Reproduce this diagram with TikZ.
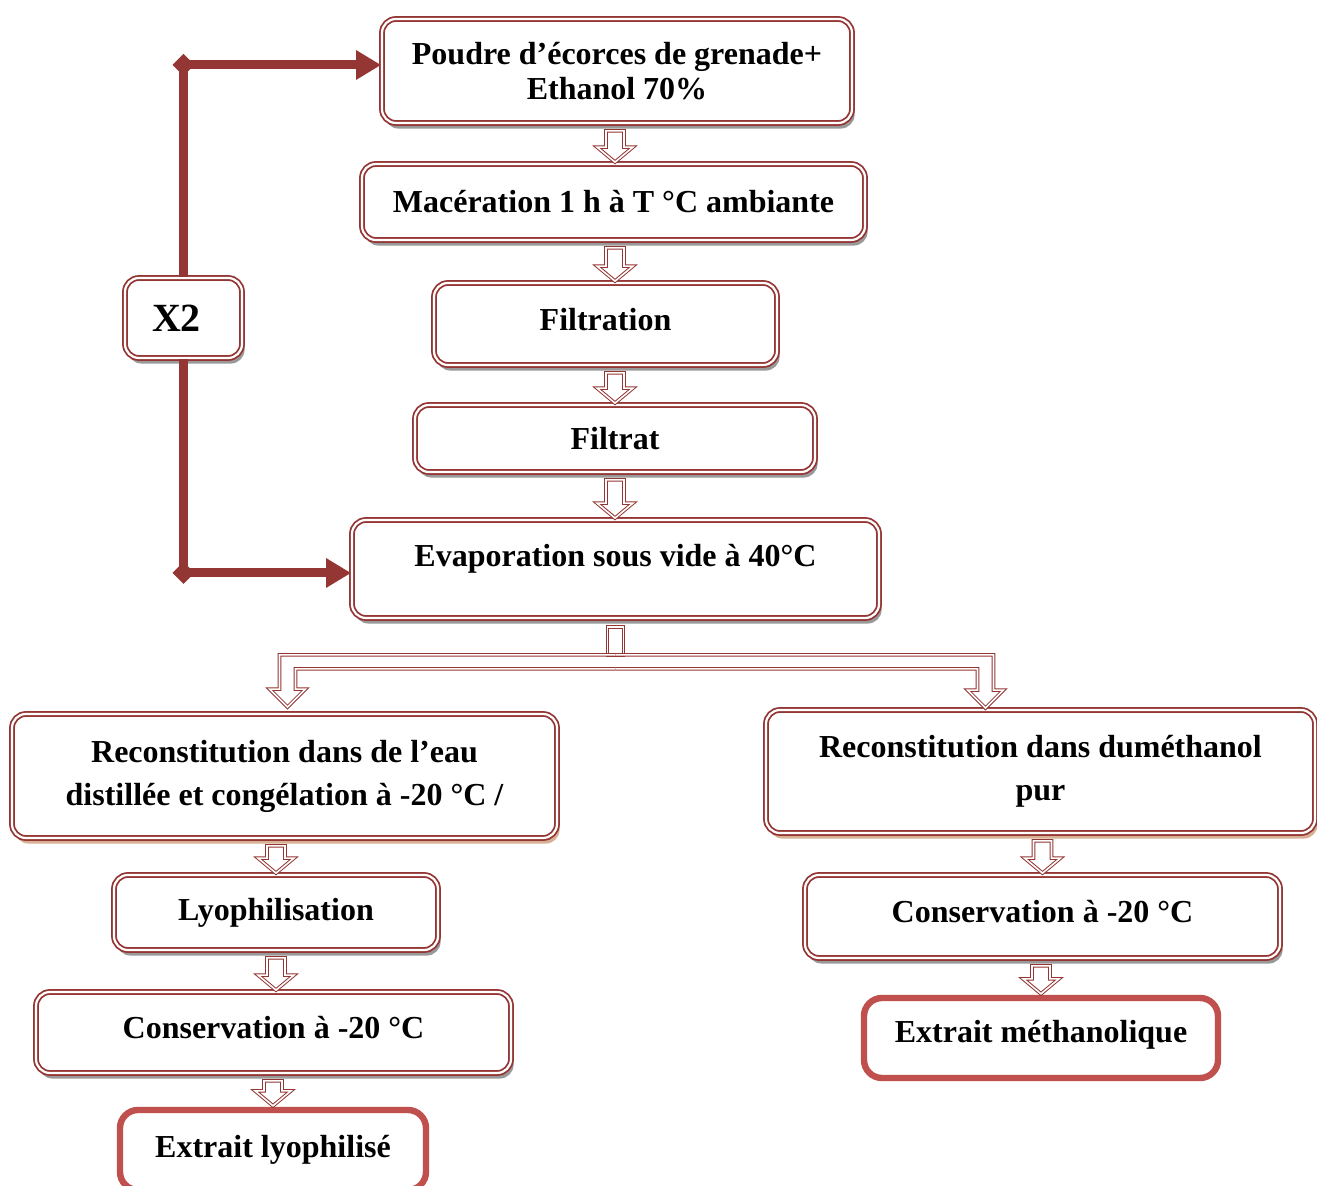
\documentclass[tikz,border=0pt]{standalone}
\usepackage{fontspec}
\setmainfont{Liberation Serif}
\usetikzlibrary{calc,arrows.meta,shadows}
\definecolor{dred}{HTML}{943634}
\definecolor{ered}{HTML}{C0504D}
\definecolor{tanshadow}{HTML}{D4A888}
\newcommand\harrow[3]{%
  \draw[hollow] ($(#1.south -| #3)+(-9,7)$) -- ($(#1.south -| #3)+(9,7)$)
    -- ($(#2.north -| #3)+(9,-16)$) -- ($(#2.north -| #3)+(18,-16)$)
    -- ($(#2.north -| #3)+(0,-1)$) -- ($(#2.north -| #3)+(-18,-16)$)
    -- ($(#2.north -| #3)+(-9,-16)$) -- cycle;}
\begin{document}
\begin{tikzpicture}[x=0.5pt,y=-0.5pt,
  boxbase/.style={draw=dred, double=white, line width=0.9pt, double distance=1.1pt,
    rounded corners=7pt, fill=white, align=center, inner sep=0pt,
    font=\bfseries\fontsize{16}{21.5}\selectfont},
  box/.style={boxbase, drop shadow={shadow xshift=1.3pt, shadow yshift=-2.8pt, fill=black!50, opacity=0.8}},
  tanbox/.style={boxbase, drop shadow={shadow xshift=1.3pt, shadow yshift=-2.8pt, fill=tanshadow, opacity=0.9}},
  ext/.style={draw=ered, line width=3.2pt, rounded corners=9pt, fill=white, align=center,
    inner sep=0pt, font=\bfseries\fontsize{16}{21.5}\selectfont},
  hollow/.style={draw=dred, double=white, line width=0.5pt, double distance=0.8pt},
  xline/.style={draw=dred, line width=4.5pt}]
\useasboundingbox (0,0) rectangle (1317,1186);
\fill[white] (0,0) rectangle (1317,1186);

% nodes
\node[box, minimum width=235pt, minimum height=52pt, font=\bfseries\fontsize{16}{17.5}\selectfont]
  (poudre) at (617,71) {Poudre d’écorces de grenade+\\Ethanol 70\%};
\node[box, minimum width=251.5pt, minimum height=38pt] (macer) at (613.5,202) {Macération 1 h à T °C ambiante};
\node[box, minimum width=171.5pt, minimum height=41pt, text depth=5pt] (filtr) at (605.5,324) {Filtration};
\node[box, minimum width=200pt, minimum height=33.5pt] (filtrat) at (615,438.5) {Filtrat};
\node[box, minimum width=263.5pt, minimum height=49pt, text depth=14pt] (evap) at (615.5,569) {Evaporation sous vide à 40°C};
\node[tanbox, minimum width=272.5pt, minimum height=62pt] (reconL) at (284.5,776)
  {Reconstitution dans de l’eau\\distillée et congélation à -20 °C /};
\node[tanbox, minimum width=274.5pt, minimum height=61.5pt] (reconR) at (1040.5,771.5)
  {Reconstitution dans duméthanol\\pur};
\node[box, minimum width=162pt, minimum height=37.5pt] (lyo) at (276,912.5) {Lyophilisation};
\node[box, minimum width=237.5pt, minimum height=40.5pt, text depth=5pt] (consL) at (273.5,1032.5) {Conservation à -20 °C};
\node[ext, minimum width=153pt, minimum height=40pt] (extL) at (273,1150) {Extrait lyophilisé};
\node[box, minimum width=237.5pt, minimum height=41.5pt, text depth=5pt] (consR) at (1042.5,916.5) {Conservation à -20 °C};
\node[ext, minimum width=177pt, minimum height=40pt, text depth=6.5pt] (extM) at (1041,1038) {Extrait méthanolique};
\node[box, minimum width=58.5pt, minimum height=40pt, font=\bfseries\fontsize{20}{24}\selectfont] (x2) at (183.5,318) {X2\hspace*{7pt}};

% X2 loop connector
\coordinate (c1) at (183.5,65);
\coordinate (c2) at (183.5,573);
\draw[xline] (c1) -- (x2.north);
\draw[xline] (x2.south) -- (c2);
\draw[xline, -{Triangle[length=12.5pt,width=14pt]}] (c1) -- (c1 -| poudre.west);
\draw[xline, -{Triangle[length=12.5pt,width=14pt]}] (c2) -- (c2 -| evap.west);
\fill[dred] (c1) ++(-11,0) -- ++(11,-11) -- ++(11,11) -- ++(-11,11) -- cycle;
\fill[dred] (c2) ++(-11,0) -- ++(11,-11) -- ++(11,11) -- ++(-11,11) -- cycle;

% hollow arrows
\coordinate (ax) at (615,0);
\harrow{poudre}{macer}{ax}
\harrow{macer}{filtr}{ax}
\harrow{filtr}{filtrat}{ax}
\harrow{filtrat}{evap}{ax}
\harrow{reconL}{lyo}{lyo.north}
\harrow{lyo}{consL}{lyo.north}
\harrow{consL}{extL}{extL.north}
\harrow{reconR}{consR}{consR.north}
\harrow{consR}{extM}{extM.north}

% split connector
\coordinate (S) at ($(evap.south)+(0,43)$);
\coordinate (TL) at ($(reconL.north)+(3,-6)$);
\coordinate (TR) at ($(reconR.north)+(-55,-1)$);
\draw[hollow] ($(evap.south)+(-8,8)$) rectangle ($(S)+(8,-7)$);
\draw[hollow] ($(S)+(0,-7)$) -- ($(S -| TL)+(-8,-7)$) -- ($(TL)+(-8,-18)$) -- ($(TL)+(-18,-18)$)
  -- (TL) -- ($(TL)+(18,-18)$) -- ($(TL)+(8,-18)$) -- ($(S -| TL)+(8,7)$) -- ($(S)+(0,7)$);
\draw[hollow] ($(S)+(0,-7)$) -- ($(S -| TR)+(8,-7)$) -- ($(TR)+(8,-18)$) -- ($(TR)+(18,-18)$)
  -- (TR) -- ($(TR)+(-18,-18)$) -- ($(TR)+(-8,-18)$) -- ($(S -| TR)+(-8,7)$) -- ($(S)+(0,7)$);
\end{tikzpicture}
\end{document}
